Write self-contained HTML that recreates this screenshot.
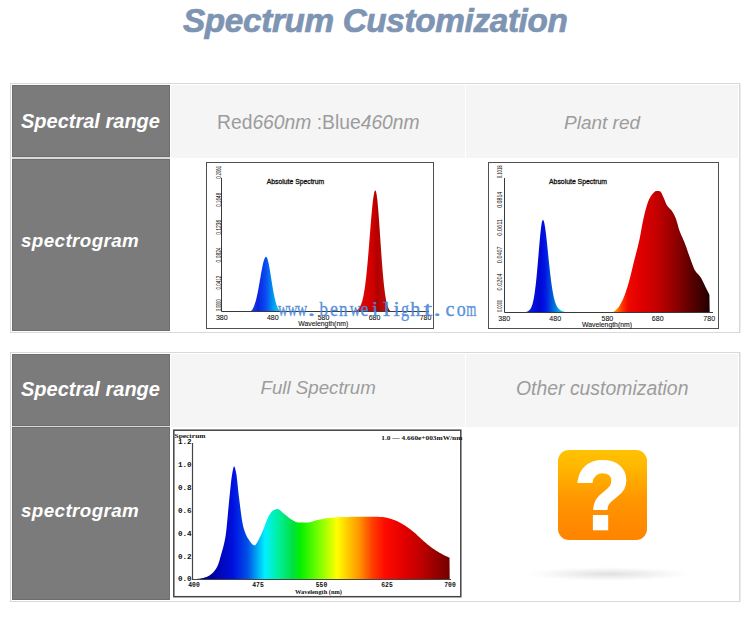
<!DOCTYPE html>
<html><head><meta charset="utf-8">
<style>
html,body{margin:0;padding:0;background:#fff;width:750px;height:619px;overflow:hidden;position:relative}
.a{position:absolute}
.t{font-family:"Liberation Sans",sans-serif;white-space:nowrap;line-height:1}
#title{left:183px;top:1.6px;font:italic bold 33.3px "Liberation Sans",sans-serif;letter-spacing:-0.35px;color:#7d94b3;-webkit-text-stroke:0.7px #7d94b3}
.tbl{position:absolute;left:10px;width:728px;border:1px solid #d9d9d9;background:#fff;box-shadow:1px 0 0 #ececec}
.g{position:absolute;background:#7b7b7b;border:1px solid #6e6e6e;box-sizing:border-box}
.h{position:absolute;background:#f5f5f5}
.lab{position:absolute;left:21px;font:italic bold 20px "Liberation Sans",sans-serif;color:#fff;white-space:nowrap;line-height:1}
.ht{position:absolute;font:19px "Liberation Sans",sans-serif;color:#9c9c9c;white-space:nowrap;line-height:1}
.ht i{font-style:italic}
svg{position:absolute;left:0;top:0}
.s{font-family:"Liberation Sans",sans-serif;fill:#111}
.m{font-family:"Liberation Serif",serif;font-weight:bold;fill:#111}
.wm{font-family:"Liberation Serif",serif;fill:#4a88d6}
#q{left:558px;top:450px;width:89px;height:90px;border-radius:11px;background:linear-gradient(#ffc200,#ffb800 17%,#ffaa00 33%,#ff9600 55%,#ff8c00 78%,#ff8400);overflow:hidden}
#q span{position:absolute;left:0;width:89px;text-align:center;top:-3px;font:bold 88px "Liberation Sans",sans-serif;color:#fff;line-height:1;-webkit-text-stroke:2.2px #fff;transform:scale(1.04,1.105);transform-origin:50% 0}
#sh{left:526px;top:567px;width:166px;height:14px;background:radial-gradient(closest-side,rgba(0,0,0,.12),rgba(0,0,0,.07) 40%,rgba(0,0,0,.025) 75%,rgba(0,0,0,0))}
</style></head><body>
<div id="title" class="a t">Spectrum Customization</div>

<!-- table 1 -->
<div class="tbl" style="top:83px;height:248px"></div>
<div class="g" style="left:12px;top:85px;width:158px;height:72px"></div>
<div class="g" style="left:12px;top:159px;width:158px;height:172px"></div>
<div class="a" style="left:12px;top:157px;width:158px;height:2px;background:#d9d9d9"></div>
<div class="h" style="left:171px;top:85px;width:294px;height:73px"></div>
<div class="h" style="left:466px;top:85px;width:272px;height:73px"></div>
<div class="lab" style="top:111px">Spectral range</div>
<div class="lab" style="top:232.3px;font-size:18.8px;letter-spacing:0.4px">spectrogram</div>
<div class="ht" style="left:217px;top:112.6px;font-size:19.3px">Red<i>660nm</i> :Blue<i>460nm</i></div>
<div class="ht" style="left:564px;top:113px"><i>Plant red</i></div>

<!-- table 2 -->
<div class="tbl" style="top:352px;height:248px"></div>
<div class="g" style="left:12px;top:354px;width:158px;height:72px"></div>
<div class="g" style="left:12px;top:427px;width:158px;height:173px"></div>
<div class="a" style="left:12px;top:426px;width:158px;height:1px;background:#d9d9d9"></div>
<div class="h" style="left:171px;top:354px;width:294px;height:73px"></div>
<div class="h" style="left:466px;top:354px;width:272px;height:73px"></div>
<div class="lab" style="top:379px">Spectral range</div>
<div class="lab" style="top:501.7px;font-size:18.8px;letter-spacing:0.4px">spectrogram</div>
<div class="ht" style="left:260.5px;top:379.3px;font-size:18.7px"><i>Full Spectrum</i></div>
<div class="ht" style="left:516px;top:379px;font-size:19.4px"><i>Other customization</i></div>

<div id="sh" class="a"></div>
<div id="q" class="a"><span>?</span></div>

<svg width="750" height="619" viewBox="0 0 750 619">
<defs>
<linearGradient id="gb1" gradientUnits="userSpaceOnUse" x1="250" y1="0" x2="281" y2="0">
<stop offset="0" stop-color="#1a4cf0"/><stop offset="0.25" stop-color="#0a22e0"/><stop offset="0.5" stop-color="#0a4af0"/>
<stop offset="0.72" stop-color="#0090f0"/><stop offset="1" stop-color="#00e4f4"/></linearGradient>
<linearGradient id="gr1" gradientUnits="userSpaceOnUse" x1="356" y1="0" x2="392" y2="0">
<stop offset="0" stop-color="#e40a0a"/><stop offset="0.45" stop-color="#d00000"/><stop offset="0.6" stop-color="#b00000"/>
<stop offset="0.75" stop-color="#c00808"/><stop offset="1" stop-color="#8a0000"/></linearGradient>
<linearGradient id="gb2" gradientUnits="userSpaceOnUse" x1="526" y1="0" x2="564" y2="0">
<stop offset="0" stop-color="#0820e8"/><stop offset="0.35" stop-color="#0008d0"/><stop offset="0.5" stop-color="#0014e4"/>
<stop offset="0.7" stop-color="#0060d8"/><stop offset="1" stop-color="#00e0ec"/></linearGradient>
<linearGradient id="gr2" gradientUnits="userSpaceOnUse" x1="612" y1="0" x2="710" y2="0"><stop offset="0.000" stop-color="#ffc000"/><stop offset="0.041" stop-color="#ff8800"/><stop offset="0.102" stop-color="#ff3800"/><stop offset="0.163" stop-color="#f00800"/><stop offset="0.286" stop-color="#e00000"/><stop offset="0.439" stop-color="#c80000"/><stop offset="0.592" stop-color="#a00000"/><stop offset="0.745" stop-color="#700000"/><stop offset="0.898" stop-color="#400000"/><stop offset="1.000" stop-color="#200000"/></linearGradient>
<linearGradient id="g3" gradientUnits="userSpaceOnUse" x1="193" y1="0" x2="450" y2="0">
<stop offset="0.000" stop-color="#000078"/>
<stop offset="0.072" stop-color="#0000a0"/>
<stop offset="0.156" stop-color="#0010e0"/>
<stop offset="0.212" stop-color="#0050e8"/>
<stop offset="0.280" stop-color="#00f0ff"/>
<stop offset="0.331" stop-color="#00f0a0"/>
<stop offset="0.389" stop-color="#00e040"/>
<stop offset="0.416" stop-color="#00f000"/>
<stop offset="0.494" stop-color="#80ff00"/>
<stop offset="0.560" stop-color="#ffff00"/>
<stop offset="0.611" stop-color="#ffc000"/>
<stop offset="0.650" stop-color="#ff9000"/>
<stop offset="0.696" stop-color="#ff4000"/>
<stop offset="0.747" stop-color="#ff0a00"/>
<stop offset="0.825" stop-color="#e00000"/>
<stop offset="0.899" stop-color="#b80000"/>
<stop offset="1.000" stop-color="#700000"/>
</linearGradient>
</defs>

<!-- chart 1 -->
<rect x="206.5" y="162.5" width="227" height="166" fill="#fff" stroke="#505050" stroke-width="1"/>
<path d="M250.5,311.5 L250.5,311.50 L251.0,311.05 L251.5,310.52 L252.0,309.88 L252.5,309.14 L253.0,308.28 L253.5,307.28 L254.0,306.14 L254.5,304.83 L255.0,303.37 L255.5,301.73 L256.0,299.91 L256.5,297.92 L257.0,295.75 L257.5,293.41 L258.0,290.92 L258.5,288.30 L259.0,285.56 L259.5,282.74 L260.0,279.86 L260.5,276.97 L261.0,274.10 L261.5,271.30 L262.0,268.63 L262.5,266.11 L263.0,263.82 L263.5,261.78 L264.0,260.04 L264.5,258.65 L265.0,257.63 L265.5,257.01 L266.0,256.80 L266.5,257.06 L267.0,257.82 L267.5,259.07 L268.0,260.77 L268.5,262.86 L269.0,265.29 L269.5,268.00 L270.0,270.92 L270.5,273.99 L271.0,277.14 L271.5,280.31 L272.0,283.44 L272.5,286.50 L273.0,289.43 L273.5,292.20 L274.0,294.80 L274.5,297.19 L275.0,299.37 L275.5,301.34 L276.0,303.09 L276.5,304.64 L277.0,305.99 L277.5,307.15 L278.0,308.15 L278.5,308.99 L279.0,309.70 L279.5,310.29 L280.0,310.78 L280.5,311.18 L281.0,311.50 L281.0,311.5 Z" fill="url(#gb1)"/>
<path d="M354.5,311.5 L354.5,311.50 L355.0,311.29 L355.5,311.07 L356.0,310.81 L356.5,310.52 L357.0,310.18 L357.5,309.80 L358.0,309.36 L358.5,308.84 L359.0,308.24 L359.5,307.53 L360.0,306.70 L360.5,305.73 L361.0,304.60 L361.5,303.27 L362.0,301.73 L362.5,299.94 L363.0,297.88 L363.5,295.52 L364.0,292.83 L364.5,289.79 L365.0,286.38 L365.5,282.59 L366.0,278.40 L366.5,273.82 L367.0,268.87 L367.5,263.55 L368.0,257.92 L368.5,252.00 L369.0,245.88 L369.5,239.61 L370.0,233.28 L370.5,226.99 L371.0,220.86 L371.5,214.98 L372.0,209.48 L372.5,204.48 L373.0,200.08 L373.5,196.40 L374.0,193.53 L374.5,191.53 L375.0,190.47 L375.5,190.40 L376.0,191.53 L376.5,193.87 L377.0,197.34 L377.5,201.84 L378.0,207.23 L378.5,213.34 L379.0,220.02 L379.5,227.09 L380.0,234.39 L380.5,241.75 L381.0,249.04 L381.5,256.12 L382.0,262.89 L382.5,269.26 L383.0,275.17 L383.5,280.58 L384.0,285.46 L384.5,289.80 L385.0,293.63 L385.5,296.95 L386.0,299.80 L386.5,302.22 L387.0,304.26 L387.5,305.95 L388.0,307.34 L388.5,308.47 L389.0,309.38 L389.5,310.11 L390.0,310.69 L390.5,311.14 L391.0,311.50 L391.0,311.5 Z" fill="url(#gr1)"/>
<path d="M221.5,178 V311.5 H429" fill="none" stroke="#3a3a3a" stroke-width="1"/>
<text class="s" x="266.8" y="184.3" font-size="7.5" stroke="#111" stroke-width="0.3" textLength="57.5" lengthAdjust="spacingAndGlyphs">Absolute Spectrum</text>
<g class="s" font-size="6.5" fill="#333">
<text transform="translate(220.8,311) rotate(-90)" textLength="11.5" lengthAdjust="spacingAndGlyphs">0.0000</text>
<text transform="translate(220.8,289.6) rotate(-90)" textLength="14" lengthAdjust="spacingAndGlyphs">0.0412</text>
<text transform="translate(220.8,262.4) rotate(-90)" textLength="15" lengthAdjust="spacingAndGlyphs">0.0824</text>
<text transform="translate(220.8,234.8) rotate(-90)" textLength="15" lengthAdjust="spacingAndGlyphs">0.1236</text>
<text transform="translate(220.8,206.8) rotate(-90)" textLength="14" lengthAdjust="spacingAndGlyphs">0.1648</text>
<text transform="translate(220.8,178.8) rotate(-90)" textLength="12.8" lengthAdjust="spacingAndGlyphs">0.2061</text>
</g>
<g class="s" font-size="7" text-anchor="middle" stroke="#222" stroke-width="0.1">
<text x="221.8" y="319.7">380</text><text x="272.8" y="319.7">480</text><text x="323.5" y="319.7">580</text>
<text x="374.5" y="319.7">680</text><text x="425.5" y="319.7">780</text>
<text x="323.2" y="325.7" textLength="50" lengthAdjust="spacingAndGlyphs">Wavelength(nm)</text>
</g>

<!-- chart 2 -->
<rect x="488.5" y="162.5" width="230" height="166" fill="#fff" stroke="#505050" stroke-width="1"/>
<path d="M526.0,312 L526.0,312.00 L526.5,311.86 L527.0,311.69 L527.5,311.48 L528.0,311.24 L528.5,310.93 L529.0,310.56 L529.5,310.10 L530.0,309.52 L530.5,308.81 L531.0,307.93 L531.5,306.85 L532.0,305.53 L532.5,303.93 L533.0,302.02 L533.5,299.76 L534.0,297.11 L534.5,294.04 L535.0,290.52 L535.5,286.56 L536.0,282.14 L536.5,277.30 L537.0,272.07 L537.5,266.52 L538.0,260.72 L538.5,254.78 L539.0,248.82 L539.5,243.00 L540.0,237.46 L540.5,232.39 L541.0,227.96 L541.5,224.35 L542.0,221.72 L542.5,220.18 L543.0,219.82 L543.5,220.39 L544.0,221.77 L544.5,223.90 L545.0,226.73 L545.5,230.15 L546.0,234.09 L546.5,238.42 L547.0,243.05 L547.5,247.87 L548.0,252.80 L548.5,257.73 L549.0,262.59 L549.5,267.31 L550.0,271.84 L550.5,276.14 L551.0,280.16 L551.5,283.89 L552.0,287.31 L552.5,290.43 L553.0,293.23 L553.5,295.74 L554.0,297.96 L554.5,299.92 L555.0,301.63 L555.5,303.12 L556.0,304.40 L556.5,305.51 L557.0,306.46 L557.5,307.28 L558.0,307.98 L558.5,308.58 L559.0,309.09 L559.5,309.53 L560.0,309.92 L560.5,310.25 L561.0,310.54 L561.5,310.79 L562.0,311.02 L562.5,311.23 L563.0,311.41 L563.5,311.58 L564.0,311.73 L564.5,311.87 L565.0,312.00 L565.0,312 Z" fill="url(#gb2)"/>
<path d="M612.4,312 L612.4,312.0 L612.9,311.9 L613.4,311.7 L613.9,311.4 L614.4,311.1 L614.9,310.8 L615.4,310.4 L615.9,310.0 L616.4,309.5 L616.9,309.1 L617.4,308.6 L617.9,308.0 L618.4,307.4 L618.9,306.7 L619.4,305.9 L619.9,305.1 L620.4,304.3 L620.9,303.3 L621.4,302.4 L621.9,301.4 L622.4,300.4 L622.9,299.4 L623.4,298.3 L623.9,297.1 L624.4,295.8 L624.9,294.4 L625.4,293.0 L625.9,291.6 L626.4,290.1 L626.9,288.5 L627.4,286.9 L627.9,285.3 L628.4,283.7 L628.9,281.9 L629.4,280.1 L629.9,278.2 L630.4,276.3 L630.9,274.2 L631.4,272.2 L631.9,270.1 L632.4,268.0 L632.9,265.9 L633.4,263.8 L633.9,261.8 L634.4,259.8 L634.9,257.9 L635.4,255.9 L635.9,254.0 L636.4,252.1 L636.9,250.2 L637.4,248.2 L637.9,246.2 L638.4,244.1 L638.9,242.0 L639.4,239.7 L639.9,237.4 L640.4,234.8 L640.9,232.0 L641.4,229.2 L641.9,226.3 L642.4,223.7 L642.9,221.2 L643.4,218.9 L643.9,216.7 L644.4,214.6 L644.9,212.5 L645.4,210.6 L645.9,208.8 L646.4,207.0 L646.9,205.3 L647.4,203.7 L647.9,202.2 L648.4,200.9 L648.9,199.8 L649.4,198.7 L649.9,197.8 L650.4,196.9 L650.9,196.1 L651.4,195.4 L651.9,194.7 L652.4,194.1 L652.9,193.6 L653.4,193.0 L653.9,192.5 L654.4,192.0 L654.9,191.6 L655.4,191.2 L655.9,191.0 L656.4,190.9 L656.9,190.9 L657.4,190.9 L657.9,191.0 L658.4,191.0 L658.9,191.1 L659.4,191.2 L659.9,191.3 L660.4,191.5 L660.9,192.1 L661.4,192.9 L661.9,193.9 L662.4,195.1 L662.9,196.2 L663.4,197.2 L663.9,198.3 L664.4,199.6 L664.9,200.8 L665.4,202.1 L665.9,203.3 L666.4,204.4 L666.9,205.2 L667.4,205.9 L667.9,206.6 L668.4,207.2 L668.9,207.7 L669.4,208.2 L669.9,208.7 L670.4,209.2 L670.9,209.8 L671.4,210.3 L671.9,211.0 L672.4,211.7 L672.9,212.5 L673.4,213.4 L673.9,214.3 L674.4,215.3 L674.9,216.4 L675.4,217.5 L675.9,218.8 L676.4,220.2 L676.9,221.9 L677.4,223.6 L677.9,225.5 L678.4,227.3 L678.9,228.9 L679.4,230.4 L679.9,231.7 L680.4,233.0 L680.9,234.2 L681.4,235.4 L681.9,236.5 L682.4,237.6 L682.9,238.8 L683.4,239.9 L683.9,241.1 L684.4,242.3 L684.9,243.6 L685.4,244.9 L685.9,246.2 L686.4,247.6 L686.9,249.1 L687.4,250.5 L687.9,251.9 L688.4,253.4 L688.9,254.8 L689.4,256.2 L689.9,257.6 L690.4,258.9 L690.9,260.3 L691.4,261.7 L691.9,263.1 L692.4,264.4 L692.9,265.8 L693.4,267.1 L693.9,268.3 L694.4,269.4 L694.9,270.3 L695.4,271.1 L695.9,271.8 L696.4,272.5 L696.9,273.1 L697.4,273.6 L697.9,274.1 L698.4,274.6 L698.9,275.2 L699.4,275.7 L699.9,276.3 L700.4,277.0 L700.9,277.8 L701.4,278.6 L701.9,279.5 L702.4,280.5 L702.9,281.5 L703.4,282.5 L703.9,283.6 L704.4,284.6 L704.9,285.7 L705.4,286.8 L705.9,287.8 L706.4,288.8 L706.9,289.8 L707.4,290.8 L707.9,291.8 L708.4,292.7 L708.9,293.7 L709.4,294.7 L709.7,312 Z" fill="url(#gr2)"/>
<path d="M504.5,178 V312.5 H713" fill="none" stroke="#3a3a3a" stroke-width="1"/>
<text class="s" x="549" y="184.3" font-size="7.5" stroke="#111" stroke-width="0.3" textLength="58" lengthAdjust="spacingAndGlyphs">Absolute Spectrum</text>
<g class="s" font-size="6.5" fill="#333">
<text transform="translate(501.8,312) rotate(-90)" textLength="12" lengthAdjust="spacingAndGlyphs">0.0000</text>
<text transform="translate(501.8,290.4) rotate(-90)" textLength="17" lengthAdjust="spacingAndGlyphs">0.0204</text>
<text transform="translate(501.8,263.2) rotate(-90)" textLength="16.8" lengthAdjust="spacingAndGlyphs">0.0407</text>
<text transform="translate(501.8,235.8) rotate(-90)" textLength="16.8" lengthAdjust="spacingAndGlyphs">0.0611</text>
<text transform="translate(501.8,207.8) rotate(-90)" textLength="16" lengthAdjust="spacingAndGlyphs">0.0814</text>
<text transform="translate(501.8,178.2) rotate(-90)" textLength="12.8" lengthAdjust="spacingAndGlyphs">0.1018</text>
</g>
<g class="s" font-size="7" text-anchor="middle" stroke="#222" stroke-width="0.1">
<text x="504.2" y="321">380</text><text x="555.2" y="321">480</text><text x="607.4" y="321">580</text>
<text x="657.7" y="321">680</text><text x="709.2" y="321">780</text>
<text x="607" y="327" textLength="50" lengthAdjust="spacingAndGlyphs">Wavelength(nm)</text>
</g>

<!-- watermark -->
<text class="wm" y="315.5" font-size="20.5" fill-opacity="0.9" stroke="#4a88d6" stroke-opacity="0.7" stroke-width="0.5"><tspan x="278.0" textLength="10.0" lengthAdjust="spacingAndGlyphs">w</tspan><tspan x="287.4" textLength="9.9" lengthAdjust="spacingAndGlyphs">w</tspan><tspan x="296.7" textLength="10.4" lengthAdjust="spacingAndGlyphs">w</tspan><tspan x="307.5" textLength="7.9" lengthAdjust="spacingAndGlyphs">.</tspan><tspan x="313.2" textLength="4.1" lengthAdjust="spacingAndGlyphs"> </tspan><tspan x="319.6" textLength="8.5" lengthAdjust="spacingAndGlyphs">b</tspan><tspan x="329.9" textLength="8.0" lengthAdjust="spacingAndGlyphs">e</tspan><tspan x="339.0" textLength="8.5" lengthAdjust="spacingAndGlyphs">n</tspan><tspan x="349.7" textLength="10.9" lengthAdjust="spacingAndGlyphs">w</tspan><tspan x="360.4" textLength="8.1" lengthAdjust="spacingAndGlyphs">e</tspan><tspan x="372.1" textLength="6.2" lengthAdjust="spacingAndGlyphs">i</tspan><tspan x="382.9" textLength="7.1" lengthAdjust="spacingAndGlyphs">l</tspan><tspan x="393.6" textLength="6.2" lengthAdjust="spacingAndGlyphs">i</tspan><tspan x="401.1" textLength="8.1" lengthAdjust="spacingAndGlyphs">g</tspan><tspan x="410.3" textLength="10.1" lengthAdjust="spacingAndGlyphs">h</tspan><tspan x="423.7" textLength="8.4" lengthAdjust="spacingAndGlyphs">t</tspan><tspan x="433.3" textLength="7.8" lengthAdjust="spacingAndGlyphs">.</tspan><tspan x="439.2" textLength="4.1" lengthAdjust="spacingAndGlyphs"> </tspan><tspan x="445.5" textLength="9.0" lengthAdjust="spacingAndGlyphs">c</tspan><tspan x="456.7" textLength="9.0" lengthAdjust="spacingAndGlyphs">o</tspan><tspan x="466.2" textLength="10.1" lengthAdjust="spacingAndGlyphs">m</tspan></text>

<!-- chart 3 -->
<rect x="173.8" y="430.2" width="287" height="166.5" fill="#fff" stroke="#444" stroke-width="1.5"/>
<path d="M193.0,579.5 L193.0,579.0 L193.5,579.0 L194.0,579.0 L194.5,579.0 L195.0,579.0 L195.5,578.9 L196.0,578.9 L196.5,578.9 L197.0,578.9 L197.5,578.8 L198.0,578.8 L198.5,578.8 L199.0,578.7 L199.5,578.7 L200.0,578.6 L200.5,578.5 L201.0,578.4 L201.5,578.3 L202.0,578.2 L202.5,578.1 L203.0,578.0 L203.5,577.9 L204.0,577.7 L204.5,577.6 L205.0,577.4 L205.5,577.3 L206.0,577.1 L206.5,576.9 L207.0,576.7 L207.5,576.4 L208.0,576.2 L208.5,575.9 L209.0,575.7 L209.5,575.4 L210.0,575.0 L210.5,574.7 L211.0,574.3 L211.5,573.9 L212.0,573.5 L212.5,573.0 L213.0,572.5 L213.5,572.0 L214.0,571.4 L214.5,570.8 L215.0,570.2 L215.5,569.5 L216.0,568.7 L216.5,567.9 L217.0,567.0 L217.5,566.0 L218.0,564.9 L218.5,563.6 L219.0,562.0 L219.5,560.4 L220.0,558.6 L220.5,556.8 L221.0,555.0 L221.5,553.2 L222.0,551.5 L222.5,549.8 L223.0,548.0 L223.5,546.1 L224.0,544.0 L224.5,541.7 L225.0,539.2 L225.5,536.4 L226.0,532.9 L226.5,528.5 L227.0,523.6 L227.5,518.3 L228.0,512.8 L228.5,507.2 L229.0,501.9 L229.5,496.9 L230.0,492.2 L230.5,487.3 L231.0,482.6 L231.5,478.3 L232.0,475.0 L232.5,472.1 L233.0,469.4 L233.5,467.3 L234.0,466.3 L234.5,466.7 L235.0,468.0 L235.5,469.9 L236.0,472.0 L236.5,474.9 L237.0,479.0 L237.5,483.8 L238.0,488.8 L238.5,493.5 L239.0,497.5 L239.5,501.5 L240.0,505.5 L240.5,509.5 L241.0,513.3 L241.5,516.9 L242.0,520.2 L242.5,523.1 L243.0,525.6 L243.5,527.5 L244.0,529.2 L244.5,530.8 L245.0,532.2 L245.5,533.6 L246.0,534.8 L246.5,535.8 L247.0,536.8 L247.5,537.7 L248.0,538.5 L248.5,539.2 L249.0,540.0 L249.5,540.7 L250.0,541.4 L250.5,542.1 L251.0,542.8 L251.5,543.4 L252.0,543.9 L252.5,544.4 L253.0,544.7 L253.5,545.0 L254.0,545.2 L254.5,545.3 L255.0,545.2 L255.5,544.9 L256.0,544.3 L256.5,543.6 L257.0,542.8 L257.5,541.8 L258.0,540.9 L258.5,539.9 L259.0,539.0 L259.5,538.1 L260.0,537.1 L260.5,536.1 L261.0,535.0 L261.5,533.8 L262.0,532.6 L262.5,531.4 L263.0,530.2 L263.5,529.0 L264.0,527.7 L264.5,526.4 L265.0,524.9 L265.5,523.6 L266.0,522.2 L266.5,521.0 L267.0,519.9 L267.5,518.7 L268.0,517.6 L268.5,516.6 L269.0,515.6 L269.5,514.8 L270.0,514.0 L270.5,513.3 L271.0,512.7 L271.5,512.1 L272.0,511.5 L272.5,511.0 L273.0,510.6 L273.5,510.3 L274.0,510.0 L274.5,509.8 L275.0,509.6 L275.5,509.4 L276.0,509.2 L276.5,509.1 L277.0,509.0 L277.5,509.0 L278.0,509.1 L278.5,509.3 L279.0,509.5 L279.5,509.8 L280.0,510.2 L280.5,510.6 L281.0,511.0 L281.5,511.5 L282.0,512.0 L282.5,512.4 L283.0,512.9 L283.5,513.4 L284.0,513.8 L284.5,514.1 L285.0,514.5 L285.5,514.9 L286.0,515.3 L286.5,515.8 L287.0,516.2 L287.5,516.6 L288.0,517.0 L288.5,517.4 L289.0,517.8 L289.5,518.2 L290.0,518.5 L290.5,518.9 L291.0,519.2 L291.5,519.5 L292.0,519.8 L292.5,520.1 L293.0,520.4 L293.5,520.7 L294.0,521.0 L294.5,521.3 L295.0,521.5 L295.5,521.8 L296.0,522.0 L296.5,522.1 L297.0,522.3 L297.5,522.4 L298.0,522.4 L298.5,522.4 L299.0,522.4 L299.5,522.4 L300.0,522.4 L300.5,522.4 L301.0,522.4 L301.5,522.4 L302.0,522.4 L302.5,522.4 L303.0,522.4 L303.5,522.4 L304.0,522.4 L304.5,522.4 L305.0,522.4 L305.5,522.4 L306.0,522.4 L306.5,522.4 L307.0,522.4 L307.5,522.4 L308.0,522.4 L308.5,522.4 L309.0,522.4 L309.5,522.3 L310.0,522.3 L310.5,522.2 L311.0,522.1 L311.5,521.9 L312.0,521.8 L312.5,521.6 L313.0,521.4 L313.5,521.3 L314.0,521.1 L314.5,520.9 L315.0,520.7 L315.5,520.6 L316.0,520.4 L316.5,520.3 L317.0,520.1 L317.5,520.0 L318.0,519.9 L318.5,519.8 L319.0,519.7 L319.5,519.6 L320.0,519.5 L320.5,519.4 L321.0,519.3 L321.5,519.2 L322.0,519.1 L322.5,519.0 L323.0,518.9 L323.5,518.8 L324.0,518.7 L324.5,518.6 L325.0,518.5 L325.5,518.4 L326.0,518.3 L326.5,518.3 L327.0,518.2 L327.5,518.1 L328.0,518.0 L328.5,518.0 L329.0,517.9 L329.5,517.9 L330.0,517.8 L330.5,517.8 L331.0,517.7 L331.5,517.7 L332.0,517.7 L332.5,517.6 L333.0,517.6 L333.5,517.5 L334.0,517.5 L334.5,517.4 L335.0,517.4 L335.5,517.4 L336.0,517.3 L336.5,517.3 L337.0,517.3 L337.5,517.2 L338.0,517.2 L338.5,517.2 L339.0,517.2 L339.5,517.1 L340.0,517.1 L340.5,517.1 L341.0,517.1 L341.5,517.1 L342.0,517.0 L342.5,517.0 L343.0,517.0 L343.5,517.0 L344.0,517.0 L344.5,517.0 L345.0,517.0 L345.5,516.9 L346.0,516.9 L346.5,516.9 L347.0,516.9 L347.5,516.9 L348.0,516.9 L348.5,516.9 L349.0,516.9 L349.5,516.9 L350.0,516.8 L350.5,516.8 L351.0,516.8 L351.5,516.8 L352.0,516.8 L352.5,516.8 L353.0,516.8 L353.5,516.8 L354.0,516.8 L354.5,516.8 L355.0,516.8 L355.5,516.8 L356.0,516.8 L356.5,516.7 L357.0,516.7 L357.5,516.7 L358.0,516.7 L358.5,516.7 L359.0,516.7 L359.5,516.7 L360.0,516.7 L360.5,516.7 L361.0,516.7 L361.5,516.7 L362.0,516.7 L362.5,516.7 L363.0,516.7 L363.5,516.7 L364.0,516.7 L364.5,516.7 L365.0,516.7 L365.5,516.7 L366.0,516.7 L366.5,516.7 L367.0,516.7 L367.5,516.7 L368.0,516.7 L368.5,516.7 L369.0,516.7 L369.5,516.7 L370.0,516.7 L370.5,516.7 L371.0,516.7 L371.5,516.7 L372.0,516.7 L372.5,516.7 L373.0,516.7 L373.5,516.8 L374.0,516.8 L374.5,516.8 L375.0,516.8 L375.5,516.8 L376.0,516.8 L376.5,516.8 L377.0,516.8 L377.5,516.8 L378.0,516.8 L378.5,516.8 L379.0,516.9 L379.5,516.9 L380.0,516.9 L380.5,516.9 L381.0,517.0 L381.5,517.0 L382.0,517.1 L382.5,517.1 L383.0,517.1 L383.5,517.2 L384.0,517.2 L384.5,517.3 L385.0,517.4 L385.5,517.5 L386.0,517.5 L386.5,517.7 L387.0,517.8 L387.5,517.9 L388.0,518.0 L388.5,518.2 L389.0,518.3 L389.5,518.4 L390.0,518.6 L390.5,518.7 L391.0,518.9 L391.5,519.0 L392.0,519.2 L392.5,519.4 L393.0,519.5 L393.5,519.7 L394.0,519.9 L394.5,520.1 L395.0,520.3 L395.5,520.5 L396.0,520.7 L396.5,520.9 L397.0,521.1 L397.5,521.4 L398.0,521.6 L398.5,521.9 L399.0,522.1 L399.5,522.4 L400.0,522.6 L400.5,522.9 L401.0,523.2 L401.5,523.5 L402.0,523.8 L402.5,524.1 L403.0,524.4 L403.5,524.7 L404.0,525.0 L404.5,525.3 L405.0,525.6 L405.5,526.0 L406.0,526.3 L406.5,526.6 L407.0,527.0 L407.5,527.3 L408.0,527.7 L408.5,528.0 L409.0,528.4 L409.5,528.8 L410.0,529.1 L410.5,529.5 L411.0,529.9 L411.5,530.3 L412.0,530.7 L412.5,531.1 L413.0,531.5 L413.5,531.9 L414.0,532.3 L414.5,532.7 L415.0,533.1 L415.5,533.6 L416.0,534.0 L416.5,534.5 L417.0,535.0 L417.5,535.4 L418.0,535.9 L418.5,536.4 L419.0,536.8 L419.5,537.3 L420.0,537.8 L420.5,538.3 L421.0,538.7 L421.5,539.2 L422.0,539.6 L422.5,540.1 L423.0,540.5 L423.5,540.9 L424.0,541.4 L424.5,541.8 L425.0,542.3 L425.5,542.7 L426.0,543.1 L426.5,543.6 L427.0,544.0 L427.5,544.4 L428.0,544.8 L428.5,545.2 L429.0,545.6 L429.5,546.0 L430.0,546.4 L430.5,546.8 L431.0,547.1 L431.5,547.5 L432.0,547.9 L432.5,548.2 L433.0,548.6 L433.5,548.9 L434.0,549.2 L434.5,549.6 L435.0,549.9 L435.5,550.2 L436.0,550.5 L436.5,550.9 L437.0,551.2 L437.5,551.5 L438.0,551.8 L438.5,552.1 L439.0,552.4 L439.5,552.7 L440.0,553.0 L440.5,553.3 L441.0,553.5 L441.5,553.8 L442.0,554.1 L442.5,554.4 L443.0,554.6 L443.5,554.9 L444.0,555.2 L444.5,555.4 L445.0,555.6 L445.5,555.9 L446.0,556.1 L446.5,556.4 L447.0,556.6 L447.5,556.8 L448.0,557.0 L448.5,557.2 L449.0,557.4 L449.5,557.6 L449.7,579.5 Z" fill="url(#g3)"/>
<path d="M192.5,443 V579.5 H451" fill="none" stroke="#444" stroke-width="1.2"/>
<text class="m" x="174.5" y="438.3" font-size="6.5" textLength="31" lengthAdjust="spacingAndGlyphs">Spectrum</text>
<g class="m" font-size="7.6" text-anchor="end" style="font-family:'Liberation Mono',monospace">
<text x="191.6" y="443.8">1.2</text><text x="191.6" y="467.2">1.0</text><text x="191.6" y="490.2">0.8</text>
<text x="191.6" y="513.2">0.6</text><text x="191.6" y="536.2">0.4</text><text x="191.6" y="558.6">0.2</text><text x="191.6" y="581">0.0</text>
</g>
<g class="m" font-size="6.4" text-anchor="middle" style="font-family:'Liberation Mono',monospace">
<text x="194" y="587">400</text><text x="258" y="587">475</text><text x="321.5" y="587">550</text>
<text x="387" y="587">625</text><text x="450" y="587">700</text>
</g>
<text class="m" x="295" y="594.3" font-size="6.5" textLength="47" lengthAdjust="spacingAndGlyphs">Wavelength (nm)</text>
<text class="m" x="381.3" y="439.6" font-size="6.5" textLength="81" lengthAdjust="spacingAndGlyphs">1.0 — 4.660e+003mW/nm</text>
</svg>
</body></html>
